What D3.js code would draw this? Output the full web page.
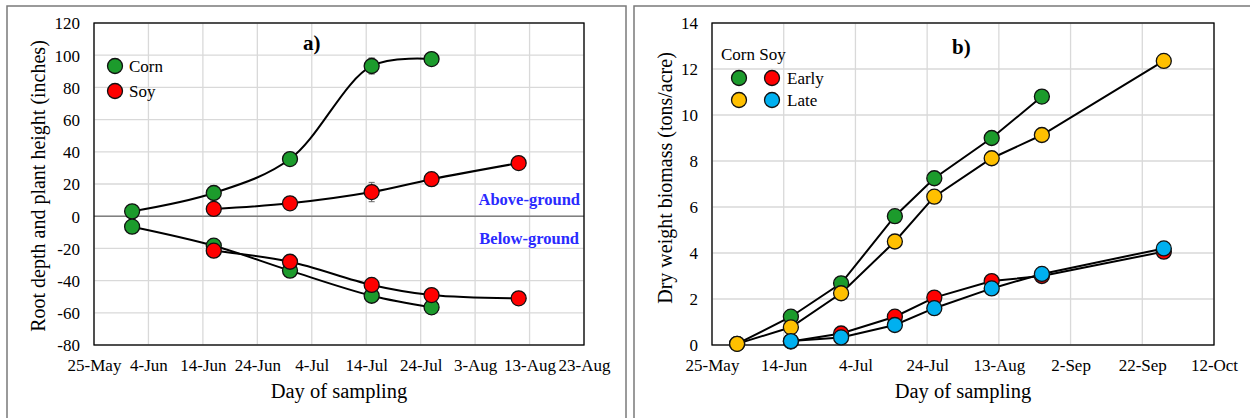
<!DOCTYPE html>
<html>
<head>
<meta charset="utf-8">
<script src="https://cdn.jsdelivr.net/npm/d3@7"></script>
<style>
  body { margin: 0; background: #fff; }
  svg text { font-family: "Liberation Serif", "Times New Roman", serif; fill: #000; }
</style>
</head>
<body>
<svg id="chart" width="1250" height="418"></svg>
<script>
const YEAR = "2019";
const parseDay = s => d3.timeParse("%d-%b-%Y")(s + "-" + YEAR);
const fmtDay = d3.timeFormat("%-d-%b");

// panel a) root depth and plant height
const heightTicksX = ["25-May","4-Jun","14-Jun","24-Jun","4-Jul","14-Jul","24-Jul","3-Aug","13-Aug","23-Aug"];
const heightTicksY = [-80,-60,-40,-20,0,20,40,60,80,100,120];
const cornDatesA = ["1-Jun","16-Jun","30-Jun","15-Jul","26-Jul"];
const cornAbove = [3, 14.4, 35.5, 93.3, 97.6];
const cornAboveErr = [0, 0, 0, 5, 0];
const cornBelow = [-6.5, -18.3, -33.8, -49.4, -56.6];
const soyDatesA = ["16-Jun","30-Jun","15-Jul","26-Jul","11-Aug"];
const soyAbove = [4.5, 8, 15, 23, 33];
const soyAboveErr = [0, 0, 6, 0, 0];
const soyBelow = [-21.4, -28.3, -42.7, -49, -51];

// panel b) dry weight biomass
const biomassTicksX = ["25-May","14-Jun","4-Jul","24-Jul","13-Aug","2-Sep","22-Sep","12-Oct"];
const biomassTicksY = [0,2,4,6,8,10,12,14];
const cornDatesB = ["1-Jun","16-Jun","30-Jun","15-Jul","26-Jul","11-Aug","25-Aug"];
const cornEarly = [0.05, 1.23, 2.68, 5.6, 7.25, 9.0, 10.8];
const cornLateDates = ["1-Jun","16-Jun","30-Jun","15-Jul","26-Jul","11-Aug","25-Aug","28-Sep"];
const cornLate = [0.05, 0.77, 2.25, 4.5, 6.45, 8.12, 9.13, 12.35];
const soyDatesB = ["16-Jun","30-Jun","15-Jul","26-Jul","11-Aug","25-Aug","28-Sep"];
const soyEarly = [0.15, 0.5, 1.23, 2.06, 2.78, 3.0, 4.06];
const soyLate = [0.17, 0.33, 0.87, 1.6, 2.46, 3.09, 4.2];

const GREEN = "#1c9b2c", RED = "#ff0000", ORANGE = "#ffc000", BLUE = "#00b0f0";
const GRID = "#d9d9d9";
const R = 7.5;

const svg = d3.select("#chart");

// outer panel frames
svg.append("rect").attr("x", 7).attr("y", 6).attr("width", 619).attr("height", 440)
  .attr("fill", "none").attr("stroke", "#7a7a7a").attr("stroke-width", 1.5);
svg.append("rect").attr("x", 634).attr("y", 6).attr("width", 640).attr("height", 440)
  .attr("fill", "none").attr("stroke", "#7a7a7a").attr("stroke-width", 1.5);

function makePanel(o){
  let g = svg.append("g");
  let xt = o.ticksX.map(parseDay);
  let x = d3.scaleTime().domain([xt[0], xt[xt.length-1]]).range([o.left, o.right]);
  let y = d3.scaleLinear().domain([o.ticksY[0], o.ticksY[o.ticksY.length-1]]).range([o.bottom, o.top]);

  //grid
  g.append("g").selectAll("line").data(xt).join("line")
    .attr("x1", d => x(d)).attr("x2", d => x(d))
    .attr("y1", o.top).attr("y2", o.bottom)
    .attr("stroke", GRID).attr("stroke-width", 1.3);
  g.append("g").selectAll("line").data(o.ticksY).join("line")
    .attr("x1", o.left).attr("x2", o.right)
    .attr("y1", d => y(d)).attr("y2", d => y(d))
    .attr("stroke", GRID).attr("stroke-width", 1.3);

  //axes (labels only, no tick marks)
  let ax = d3.axisBottom(x).tickValues(xt).tickFormat(fmtDay).tickSize(0).tickPadding(0);
  let gx = g.append("g").attr("transform", `translate(0,${o.bottom})`).call(ax);
  gx.select(".domain").remove();
  gx.selectAll("text").attr("y", 26).attr("dy", 0)
    .style("font-size", "17px").style("font-family", "Liberation Serif");

  let ay = d3.axisLeft(y).tickValues(o.ticksY).tickFormat(d => String(d)).tickSize(0).tickPadding(0);
  let gy = g.append("g").attr("transform", `translate(${o.labelX},0)`).call(ay);
  gy.select(".domain").remove();
  gy.selectAll("text").attr("dy", "0.35em")
    .style("font-size", "17px").style("font-family", "Liberation Serif");

  g.append("text").attr("x", (o.left + o.right)/2).attr("y", 398)
    .attr("text-anchor", "middle").style("font-size", "20.5px").text("Day of sampling");
  g.append("text")
    .attr("transform", `translate(${o.titleX},${o.titleY}) rotate(-90)`)
    .attr("text-anchor", "middle").style("font-size", "20px").text(o.yTitle);

  return {g, x, y};
}

function drawSeries(p, dates, vals, curve){
  let pts = dates.map((d,i) => [p.x(parseDay(d)), p.y(vals[i])]);
  p.g.append("path").attr("d", d3.line().curve(curve)(pts))
    .attr("fill", "none").attr("stroke", "#000").attr("stroke-width", 2);
}

function drawMarkers(p, dates, vals, color, err){
  if(err){
    let eg = p.g.append("g").attr("stroke", "#666").attr("stroke-width", 1);
    dates.forEach((d,i) => {
      if(!err[i]) return;
      let cx = p.x(parseDay(d));
      eg.append("line").attr("x1", cx).attr("x2", cx)
        .attr("y1", p.y(vals[i] - err[i])).attr("y2", p.y(vals[i] + err[i]));
      eg.append("line").attr("x1", cx-3).attr("x2", cx+3)
        .attr("y1", p.y(vals[i] - err[i])).attr("y2", p.y(vals[i] - err[i]));
      eg.append("line").attr("x1", cx-3).attr("x2", cx+3)
        .attr("y1", p.y(vals[i] + err[i])).attr("y2", p.y(vals[i] + err[i]));
    });
  }
  p.g.append("g").selectAll("circle").data(vals).join("circle")
    .attr("cx", (d,i) => p.x(parseDay(dates[i]))).attr("cy", d => p.y(d))
    .attr("r", R).attr("fill", color).attr("stroke", "#111").attr("stroke-width", 1.3);
}

function frame(p, o){
  p.g.append("rect").attr("x", o.left).attr("y", o.top)
    .attr("width", o.right - o.left).attr("height", o.bottom - o.top)
    .attr("fill", "none").attr("stroke", "#000").attr("stroke-width", 1.3);
}

// ---- panel a ----
const optA = {left: 94, right: 584, top: 23, bottom: 345, labelX: 80,
  titleX: 45, titleY: 186, ticksX: heightTicksX, ticksY: heightTicksY,
  yTitle: "Root depth and plant height (inches)"};
const pa = makePanel(optA);
pa.g.append("line").attr("x1", optA.left).attr("x2", optA.right)
  .attr("y1", pa.y(0)).attr("y2", pa.y(0)).attr("stroke", "#808080").attr("stroke-width", 1.5);
frame(pa, optA);

const smooth = d3.curveCatmullRom.alpha(0.5);
drawSeries(pa, cornDatesA, cornAbove, smooth);
drawSeries(pa, cornDatesA, cornBelow, smooth);
drawSeries(pa, soyDatesA, soyAbove, smooth);
drawSeries(pa, soyDatesA, soyBelow, smooth);
drawMarkers(pa, cornDatesA, cornAbove, GREEN, cornAboveErr);
drawMarkers(pa, cornDatesA, cornBelow, GREEN);
drawMarkers(pa, soyDatesA, soyAbove, RED, soyAboveErr);
drawMarkers(pa, soyDatesA, soyBelow, RED);

pa.g.append("text").attr("x", 303).attr("y", 50).style("font-size", "21px")
  .style("font-weight", "bold").text("a)");
pa.g.append("text").attr("x", 580).attr("y", 205).attr("text-anchor", "end")
  .style("font-size", "16.5px").style("font-weight", "bold").style("fill", "#2a2aff").text("Above-ground");
pa.g.append("text").attr("x", 579).attr("y", 244).attr("text-anchor", "end")
  .style("font-size", "16.5px").style("font-weight", "bold").style("fill", "#2a2aff").text("Below-ground");

//legend a
[["Corn", GREEN, 66], ["Soy", RED, 91]].forEach(d => {
  pa.g.append("circle").attr("cx", 115).attr("cy", d[2]).attr("r", R)
    .attr("fill", d[1]).attr("stroke", "#111").attr("stroke-width", 1.3);
  pa.g.append("text").attr("x", 129).attr("y", d[2] + 6).style("font-size", "17px").text(d[0]);
});

// ---- panel b ----
const optB = {left: 712, right: 1214, top: 23, bottom: 345, labelX: 698,
  titleX: 672, titleY: 178, ticksX: biomassTicksX, ticksY: biomassTicksY,
  yTitle: "Dry weight biomass (tons/acre)"};
const pb = makePanel(optB);
frame(pb, optB);

const straight = d3.curveLinear;
drawSeries(pb, cornDatesB, cornEarly, straight);
drawSeries(pb, soyDatesB, soyEarly, straight);
drawSeries(pb, cornLateDates, cornLate, straight);
drawSeries(pb, soyDatesB, soyLate, straight);
drawMarkers(pb, cornDatesB, cornEarly, GREEN);
drawMarkers(pb, soyDatesB, soyEarly, RED);
drawMarkers(pb, cornLateDates, cornLate, ORANGE);
drawMarkers(pb, soyDatesB, soyLate, BLUE);

pb.g.append("text").attr("x", 952).attr("y", 54).style("font-size", "21px")
  .style("font-weight", "bold").text("b)");

//legend b
pb.g.append("text").attr("x", 721).attr("y", 60).style("font-size", "17px").text("Corn  Soy");
[["Early", GREEN, RED, 78], ["Late", ORANGE, BLUE, 100]].forEach(d => {
  pb.g.append("circle").attr("cx", 739).attr("cy", d[3]).attr("r", R)
    .attr("fill", d[1]).attr("stroke", "#111").attr("stroke-width", 1.3);
  pb.g.append("circle").attr("cx", 772).attr("cy", d[3]).attr("r", R)
    .attr("fill", d[2]).attr("stroke", "#111").attr("stroke-width", 1.3);
  pb.g.append("text").attr("x", 787).attr("y", d[3] + 6).style("font-size", "17px").text(d[0]);
});
</script>
</body>
</html>
